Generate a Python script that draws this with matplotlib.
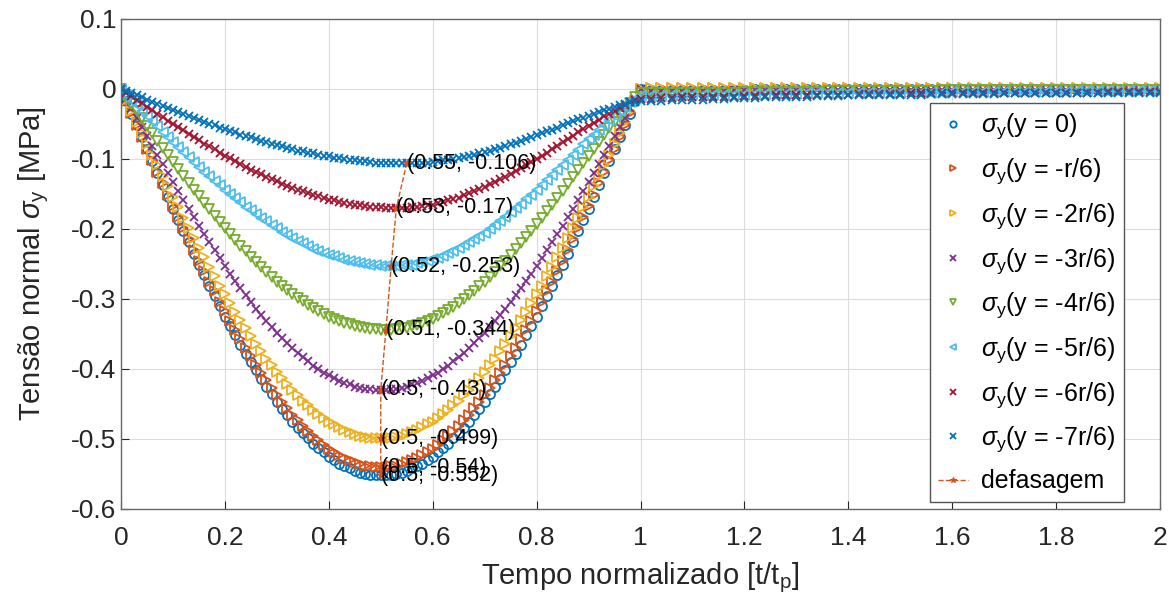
'''
Tensao normal sigma_y x tempo normalizado (varias profundidades y)
'''
import numpy as np
import matplotlib
matplotlib.use('Agg')
import matplotlib.pyplot as plt

plt.rcParams['font.family'] = ['Liberation Sans', 'DejaVu Sans']
plt.rcParams['mathtext.fontset'] = 'custom'
plt.rcParams['mathtext.rm'] = 'Liberation Sans'
plt.rcParams['mathtext.it'] = 'Liberation Sans:italic'
plt.rcParams['axes.unicode_minus'] = False

# sampling: every 0.01 during the pulse (0..1), every 0.02 afterwards (1.02..2)
t_pulse = np.linspace(0, 1, 101)
t_after = np.linspace(1.02, 2, 50)

# sigma_y [MPa], y = 0
sy_0 = [0, -0.017, -0.035, -0.052, -0.069, -0.086, -0.103, -0.120, -0.137, -0.154,
        -0.171, -0.187, -0.203, -0.219, -0.235, -0.251, -0.266, -0.281, -0.296, -0.310,
        -0.325, -0.338, -0.352, -0.365, -0.378, -0.390, -0.402, -0.414, -0.425, -0.436,
        -0.447, -0.457, -0.466, -0.475, -0.484, -0.492, -0.499, -0.507, -0.513, -0.519,
        -0.525, -0.530, -0.535, -0.539, -0.542, -0.545, -0.548, -0.550, -0.551, -0.552,
        -0.552,
        -0.552, -0.551, -0.550, -0.548, -0.545, -0.542, -0.539, -0.535, -0.530, -0.525,
        -0.519, -0.513, -0.507, -0.499, -0.492, -0.484, -0.475, -0.466, -0.457, -0.447,
        -0.436, -0.425, -0.414, -0.402, -0.390, -0.378, -0.365, -0.352, -0.338, -0.325,
        -0.310, -0.296, -0.281, -0.266, -0.251, -0.235, -0.219, -0.203, -0.187, -0.171,
        -0.154, -0.137, -0.120, -0.103, -0.086, -0.069, -0.052, -0.035, -0.017, 0.000,
        # after the pulse
        -0.001, -0.001, -0.001, -0.001, -0.001, -0.001, -0.001, -0.001, -0.001, -0.001,
        0.000, 0.000, 0.000, 0.000, 0.000, 0.000, 0.000, 0.000, 0.000, 0.000,
        0.000, 0.000, 0.000, 0.000, 0.000, 0.000, 0.000, 0.000, 0.000, 0.000,
        0.000, 0.000, 0.000, 0.000, 0.000, 0.000, 0.000, 0.000, 0.000, 0.000,
        0.000, 0.000, 0.000, 0.000, 0.000, 0.000, 0.000, 0.000, 0.000, 0.000]

# y = -r/6
sy_1 = [0, -0.017, -0.034, -0.051, -0.068, -0.085, -0.101, -0.118, -0.134, -0.151,
        -0.167, -0.183, -0.199, -0.214, -0.230, -0.245, -0.260, -0.275, -0.289, -0.304,
        -0.317, -0.331, -0.344, -0.357, -0.370, -0.382, -0.394, -0.405, -0.416, -0.427,
        -0.437, -0.447, -0.456, -0.465, -0.473, -0.481, -0.489, -0.496, -0.502, -0.508,
        -0.514, -0.519, -0.523, -0.527, -0.530, -0.533, -0.536, -0.538, -0.539, -0.540,
        -0.540,
        -0.540, -0.539, -0.538, -0.536, -0.533, -0.530, -0.527, -0.523, -0.519, -0.514,
        -0.508, -0.502, -0.496, -0.489, -0.481, -0.473, -0.465, -0.456, -0.447, -0.437,
        -0.427, -0.416, -0.405, -0.394, -0.382, -0.370, -0.357, -0.344, -0.331, -0.317,
        -0.304, -0.289, -0.275, -0.260, -0.245, -0.230, -0.214, -0.199, -0.183, -0.167,
        -0.151, -0.134, -0.118, -0.101, -0.085, -0.068, -0.051, -0.034, -0.017, 0.000,
        0.001, 0.001, 0.001, 0.001, 0.001, 0.001, 0.001, 0.001, 0.001, 0.001,
        0.001, 0.001, 0.001, 0.001, 0.001, 0.001, 0.001, 0.001, 0.001, 0.001,
        0.001, 0.001, 0.001, 0.001, 0.001, 0.001, 0.001, 0.001, 0.001, 0.001,
        0.001, 0.001, 0.001, 0.001, 0.001, 0.001, 0.001, 0.001, 0.001, 0.001,
        0.001, 0.001, 0.001, 0.001, 0.001, 0.001, 0.001, 0.001, 0.001, 0.001]

# y = -2r/6
sy_2 = [0, -0.016, -0.031, -0.047, -0.063, -0.078, -0.094, -0.109, -0.124, -0.139,
        -0.154, -0.169, -0.184, -0.198, -0.213, -0.227, -0.240, -0.254, -0.267, -0.281,
        -0.293, -0.306, -0.318, -0.330, -0.342, -0.353, -0.364, -0.374, -0.385, -0.394,
        -0.404, -0.413, -0.421, -0.430, -0.437, -0.445, -0.452, -0.458, -0.464, -0.470,
        -0.475, -0.479, -0.483, -0.487, -0.490, -0.493, -0.495, -0.497, -0.498, -0.499,
        -0.499,
        -0.499, -0.498, -0.497, -0.495, -0.493, -0.490, -0.487, -0.483, -0.479, -0.475,
        -0.470, -0.464, -0.458, -0.452, -0.445, -0.437, -0.430, -0.421, -0.413, -0.404,
        -0.394, -0.385, -0.374, -0.364, -0.353, -0.342, -0.330, -0.318, -0.306, -0.293,
        -0.281, -0.267, -0.254, -0.240, -0.227, -0.213, -0.198, -0.184, -0.169, -0.154,
        -0.139, -0.124, -0.109, -0.094, -0.078, -0.063, -0.047, -0.031, -0.016, 0.000,
        0.001, 0.001, 0.001, 0.001, 0.001, 0.002, 0.002, 0.002, 0.002, 0.002,
        0.002, 0.002, 0.002, 0.002, 0.002, 0.002, 0.002, 0.002, 0.002, 0.002,
        0.002, 0.002, 0.002, 0.002, 0.002, 0.002, 0.002, 0.002, 0.002, 0.002,
        0.002, 0.002, 0.002, 0.002, 0.002, 0.002, 0.002, 0.002, 0.002, 0.002,
        0.002, 0.002, 0.002, 0.002, 0.002, 0.002, 0.002, 0.002, 0.002, 0.002]

# y = -3r/6
sy_3 = [0, -0.014, -0.027, -0.041, -0.054, -0.067, -0.081, -0.094, -0.107, -0.120,
        -0.133, -0.146, -0.158, -0.171, -0.183, -0.195, -0.207, -0.219, -0.230, -0.242,
        -0.253, -0.264, -0.274, -0.284, -0.294, -0.304, -0.314, -0.323, -0.331, -0.340,
        -0.348, -0.356, -0.363, -0.370, -0.377, -0.383, -0.389, -0.395, -0.400, -0.405,
        -0.409, -0.413, -0.417, -0.420, -0.422, -0.425, -0.427, -0.428, -0.429, -0.430,
        -0.430,
        -0.430, -0.429, -0.428, -0.427, -0.425, -0.422, -0.420, -0.417, -0.413, -0.409,
        -0.405, -0.400, -0.395, -0.389, -0.383, -0.377, -0.370, -0.363, -0.356, -0.348,
        -0.340, -0.331, -0.323, -0.314, -0.304, -0.294, -0.284, -0.274, -0.264, -0.253,
        -0.242, -0.230, -0.219, -0.207, -0.195, -0.183, -0.171, -0.158, -0.146, -0.133,
        -0.120, -0.107, -0.094, -0.081, -0.067, -0.054, -0.041, -0.027, -0.014, 0.000,
        -0.003, -0.003, -0.003, -0.003, -0.003, -0.003, -0.003, -0.003, -0.002, -0.002,
        -0.002, -0.002, -0.002, -0.002, -0.002, -0.002, -0.002, -0.002, -0.002, -0.002,
        -0.002, -0.002, -0.002, -0.002, -0.002, -0.002, -0.002, -0.002, -0.001, -0.001,
        -0.001, -0.001, -0.001, -0.001, -0.001, -0.001, -0.001, -0.001, -0.001, -0.001,
        -0.001, -0.001, -0.001, -0.001, -0.001, -0.001, -0.001, -0.001, -0.001, -0.001]

# y = -4r/6
sy_4 = [0, -0.011, -0.021, -0.032, -0.042, -0.053, -0.063, -0.074, -0.084, -0.094,
        -0.104, -0.114, -0.124, -0.134, -0.144, -0.153, -0.163, -0.172, -0.181, -0.190,
        -0.199, -0.207, -0.216, -0.224, -0.232, -0.240, -0.247, -0.254, -0.261, -0.268,
        -0.275, -0.281, -0.287, -0.293, -0.298, -0.303, -0.308, -0.313, -0.317, -0.321,
        -0.325, -0.328, -0.331, -0.334, -0.336, -0.338, -0.340, -0.341, -0.343, -0.343,
        -0.344, -0.344,
        -0.344, -0.343, -0.342, -0.341, -0.339, -0.337, -0.334, -0.331, -0.328, -0.324,
        -0.320, -0.316, -0.311, -0.306, -0.300, -0.294, -0.288, -0.282, -0.275, -0.268,
        -0.261, -0.253, -0.245, -0.237, -0.229, -0.220, -0.212, -0.203, -0.193, -0.184,
        -0.174, -0.165, -0.155, -0.145, -0.135, -0.126, -0.116, -0.105, -0.096, -0.086,
        -0.076, -0.066, -0.056, -0.047, -0.038, -0.029, -0.020, -0.012, -0.006,
        -0.006, -0.006, -0.006, -0.005, -0.005, -0.005, -0.005, -0.005, -0.005, -0.004,
        -0.004, -0.004, -0.004, -0.004, -0.004, -0.004, -0.004, -0.003, -0.003, -0.003,
        -0.003, -0.003, -0.003, -0.003, -0.003, -0.003, -0.003, -0.003, -0.002, -0.002,
        -0.002, -0.002, -0.002, -0.002, -0.002, -0.002, -0.002, -0.002, -0.002, -0.002,
        -0.002, -0.002, -0.002, -0.002, -0.002, -0.002, -0.002, -0.002, -0.002, -0.002]

# y = -5r/6
sy_5 = [0, -0.008, -0.015, -0.023, -0.031, -0.038, -0.046, -0.053, -0.061, -0.068,
        -0.075, -0.083, -0.090, -0.097, -0.104, -0.111, -0.118, -0.124, -0.131, -0.137,
        -0.144, -0.150, -0.156, -0.162, -0.168, -0.173, -0.179, -0.184, -0.189, -0.194,
        -0.199, -0.204, -0.208, -0.213, -0.217, -0.220, -0.224, -0.228, -0.231, -0.234,
        -0.237, -0.239, -0.242, -0.244, -0.246, -0.247, -0.249, -0.250, -0.251, -0.252,
        -0.253, -0.253, -0.253,
        -0.253, -0.252, -0.252, -0.251, -0.249, -0.247, -0.245, -0.243, -0.241, -0.238,
        -0.234, -0.231, -0.227, -0.223, -0.219, -0.214, -0.210, -0.205, -0.200, -0.194,
        -0.188, -0.183, -0.176, -0.170, -0.164, -0.157, -0.151, -0.144, -0.137, -0.130,
        -0.123, -0.116, -0.109, -0.101, -0.094, -0.087, -0.079, -0.072, -0.065, -0.058,
        -0.051, -0.044, -0.038, -0.031, -0.025, -0.019, -0.014, -0.010,
        -0.010, -0.010, -0.009, -0.009, -0.009, -0.009, -0.008, -0.008, -0.008, -0.008,
        -0.007, -0.007, -0.007, -0.007, -0.007, -0.006, -0.006, -0.006, -0.006, -0.006,
        -0.006, -0.005, -0.005, -0.005, -0.005, -0.005, -0.005, -0.005, -0.005, -0.004,
        -0.004, -0.004, -0.004, -0.004, -0.004, -0.004, -0.004, -0.004, -0.004, -0.004,
        -0.004, -0.003, -0.003, -0.003, -0.003, -0.003, -0.003, -0.003, -0.003, -0.003]

# y = -6r/6
sy_6 = [0, -0.005, -0.010, -0.015, -0.020, -0.025, -0.030, -0.035, -0.040, -0.045,
        -0.050, -0.054, -0.059, -0.064, -0.069, -0.073, -0.078, -0.082, -0.086, -0.091,
        -0.095, -0.099, -0.103, -0.107, -0.111, -0.115, -0.118, -0.122, -0.125, -0.129,
        -0.132, -0.135, -0.138, -0.141, -0.144, -0.146, -0.149, -0.151, -0.153, -0.156,
        -0.158, -0.159, -0.161, -0.163, -0.164, -0.165, -0.166, -0.167, -0.168, -0.169,
        -0.169, -0.170, -0.170, -0.170,
        -0.170, -0.170, -0.169, -0.168, -0.167, -0.166, -0.165, -0.163, -0.161, -0.159,
        -0.157, -0.155, -0.152, -0.149, -0.146, -0.143, -0.140, -0.136, -0.133, -0.129,
        -0.125, -0.121, -0.117, -0.113, -0.108, -0.104, -0.100, -0.095, -0.091, -0.086,
        -0.081, -0.076, -0.072, -0.067, -0.062, -0.057, -0.053, -0.048, -0.044, -0.039,
        -0.035, -0.031, -0.027, -0.023, -0.019, -0.016, -0.014,
        -0.014, -0.013, -0.013, -0.012, -0.012, -0.012, -0.011, -0.011, -0.011, -0.010,
        -0.010, -0.010, -0.009, -0.009, -0.009, -0.009, -0.008, -0.008, -0.008, -0.008,
        -0.007, -0.007, -0.007, -0.007, -0.007, -0.006, -0.006, -0.006, -0.006, -0.006,
        -0.006, -0.006, -0.005, -0.005, -0.005, -0.005, -0.005, -0.005, -0.005, -0.005,
        -0.005, -0.005, -0.005, -0.005, -0.004, -0.004, -0.004, -0.004, -0.004, -0.004]

# y = -7r/6
sy_7 = [0, -0.003, -0.006, -0.009, -0.012, -0.015, -0.018, -0.021, -0.024, -0.027,
        -0.030, -0.033, -0.036, -0.039, -0.041, -0.044, -0.047, -0.050, -0.052, -0.055,
        -0.057, -0.060, -0.062, -0.065, -0.067, -0.069, -0.072, -0.074, -0.076, -0.078,
        -0.080, -0.082, -0.084, -0.086, -0.088, -0.089, -0.091, -0.092, -0.094, -0.095,
        -0.096, -0.098, -0.099, -0.100, -0.101, -0.102, -0.103, -0.103, -0.104, -0.105,
        -0.105, -0.105, -0.106, -0.106, -0.106, -0.106,
        -0.106, -0.106, -0.105, -0.105, -0.104, -0.103, -0.102, -0.101, -0.100, -0.099,
        -0.097, -0.096, -0.094, -0.092, -0.090, -0.088, -0.086, -0.084, -0.082, -0.079,
        -0.077, -0.074, -0.071, -0.069, -0.066, -0.063, -0.060, -0.058, -0.055, -0.052,
        -0.049, -0.046, -0.043, -0.041, -0.038, -0.035, -0.033, -0.030, -0.028, -0.025,
        -0.023, -0.021, -0.019, -0.018, -0.017,
        -0.017, -0.017, -0.016, -0.016, -0.015, -0.015, -0.014, -0.014, -0.013, -0.013,
        -0.013, -0.012, -0.012, -0.011, -0.011, -0.011, -0.010, -0.010, -0.010, -0.009,
        -0.009, -0.009, -0.008, -0.008, -0.008, -0.008, -0.008, -0.007, -0.007, -0.007,
        -0.007, -0.007, -0.007, -0.007, -0.006, -0.006, -0.006, -0.006, -0.006, -0.006,
        -0.006, -0.006, -0.006, -0.006, -0.006, -0.005, -0.005, -0.005, -0.005, -0.005]

# minimum of each curve (defasagem)
t_min = [0.5, 0.5, 0.5, 0.5, 0.51, 0.52, 0.53, 0.55]
s_min = [-0.552, -0.54, -0.499, -0.43, -0.344, -0.253, -0.17, -0.106]

depths = ['0', '-r/6', '-2r/6', '-3r/6', '-4r/6', '-5r/6', '-6r/6', '-7r/6']
x_ticks = [0, 0.2, 0.4, 0.6, 0.8, 1, 1.2, 1.4, 1.6, 1.8, 2]
y_ticks = [-0.6, -0.5, -0.4, -0.3, -0.2, -0.1, 0, 0.1]

series = [sy_0, sy_1, sy_2, sy_3, sy_4, sy_5, sy_6, sy_7]
colors = ['#0072BD', '#D95319', '#EDB120', '#7E2F8E', '#77AC30', '#4DBEEE', '#A2142F', '#0072BD']
markers = ['o', '>', '>', 'x', 'v', '<', 'x', 'x']
msizes = [6.5, 6.5, 6.5, 6, 6.5, 6.5, 6, 6]

t = np.concatenate([t_pulse, t_after])
for s in series:
    assert len(s) == len(t), len(s)

fig = plt.figure(figsize=(11.69, 6.05), dpi=100)
ax = fig.add_axes([121/1169, 1 - 509/605, 1039/1169, 490/605])

for s, c, mk, ms, d in zip(series, colors, markers, msizes, depths):
    ax.plot(t, s, linestyle='none', marker=mk, ms=ms, mfc='none', mec=c, mew=1.3,
            label=r'$\sigma_{\rm y}$(y = %s)' % d)

ax.plot(t_min, s_min, '--', color='#D95319', lw=1.0, marker='*', ms=6, mew=0.8,
        label='defasagem')

# labels of the minima, as in the original figure (the two lowest overlap)
for tm, sm in zip(t_min, s_min):
    ax.text(tm, sm, '(%g, %g)' % (tm, sm), fontsize=15.5, ha='left', va='center', color='black')

ax.set_xlim(0, 2)
ax.set_ylim(-0.6, 0.1)
ax.set_xticks(x_ticks)
ax.set_xticklabels(['%g' % v for v in x_ticks])
ax.set_yticks(y_ticks)
ax.set_yticklabels(['%g' % v for v in y_ticks])
ax.tick_params(direction='in', length=6, width=0.8, labelsize=19, colors='#262626')
ax.tick_params(axis='x', pad=12)
ax.grid(True, color='#dcdcdc', lw=0.8)
ax.set_axisbelow(True)
for sp in ax.spines.values():
    sp.set_color('#666666')
    sp.set_linewidth(1.0)

ax.set_xlabel(r'Tempo normalizado [t/t$_{\rm p}$]', fontsize=21, color='#262626', labelpad=8)
ax.set_ylabel(r'Tensão normal $\sigma_{\rm y}$ [MPa]', fontsize=21, color='#262626', labelpad=14)

leg = ax.legend(loc='lower right', bbox_to_anchor=(0.965, 0.014), borderaxespad=0,
                fontsize=18, fancybox=False, framealpha=1, edgecolor='#555555',
                handlelength=1.2, handletextpad=0.5, labelspacing=0.6, borderpad=0.35,
                numpoints=1, markerscale=0.7)
leg.get_frame().set_linewidth(1.0)

fig.savefig('out.png', dpi=100)
